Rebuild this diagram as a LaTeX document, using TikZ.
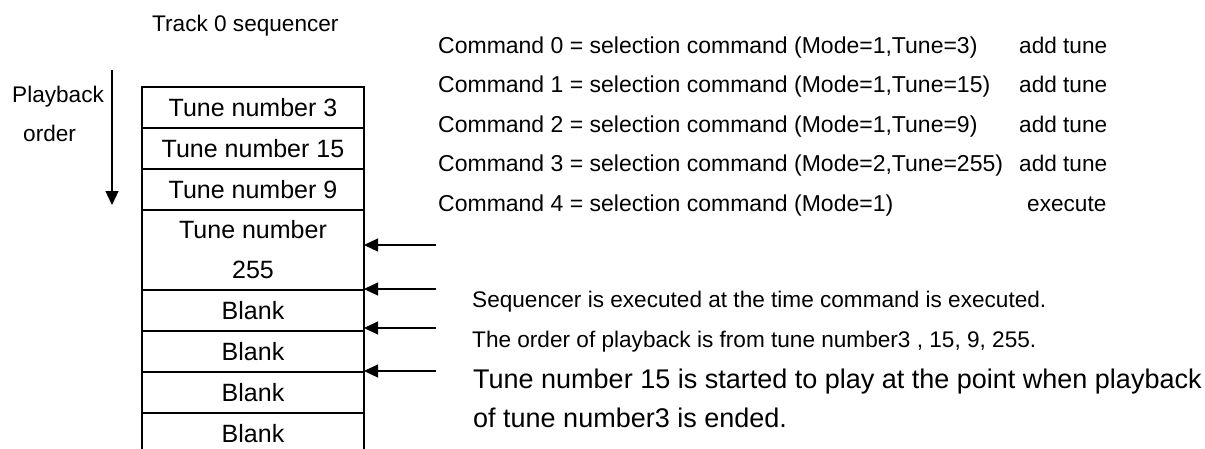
\documentclass[tikz,border=0pt]{standalone}
\usepackage{fontspec}
\setmainfont{Liberation Sans}
\usetikzlibrary{positioning}
\usetikzlibrary{arrows.meta}

\begin{document}
\begin{tikzpicture}[x=1pt, y=-1pt,
    seqrow/.style={draw, line width=1.8pt, minimum width=222pt, minimum height=41pt, inner sep=0pt, outer sep=0pt, font=\fontsize{25}{40}\selectfont},
    label/.style={inner sep=0pt, anchor=base west, font=\fontsize{22.6}{26}\selectfont},
    cmd/.style={inner sep=0pt, anchor=base west, font=\fontsize{23}{26}\selectfont},
    note/.style={inner sep=0pt, anchor=base west, font=\fontsize{27}{32}\selectfont},
    feed/.style={line width=1.2pt, -{Triangle[length=14pt, width=13pt]}}]

    \clip (0,0) rectangle (1205,448);
    \fill[white] (0,0) rectangle (1205,448);

    % sequencer table
    \node [seqrow] (t3) at (253,107.5) {Tune number 3};
    \node [seqrow, below=0pt of t3] (t15) {Tune number 15};
    \node [seqrow, below=0pt of t15] (t9) {Tune number 9};
    \node [seqrow, minimum height=80pt, align=center, below=0pt of t9] (t255) {Tune number\\255};
    \node [seqrow, below=0pt of t255] (b1) {Blank};
    \node [seqrow, below=0pt of b1] (b2) {Blank};
    \node [seqrow, below=0pt of b2] (b3) {Blank};
    \node [seqrow, below=0pt of b3] (b4) {Blank};

    \node [label] (title) at (152,31) {Track 0 sequencer};
    \node [label] (pb) at (12,102) {Playback};
    \node [label] (order) at (23,141) {order};

    \coordinate (pbtop) at (112,70);
    \coordinate (pbend) at (112,205);
    \draw [feed] (pbtop) -- (pbend);

    % commands
    \coordinate (tunecol) at (1019,0);
    \coordinate (execcol) at (1027,0);

    \node [cmd] (c0) at (438,53) {Command 0 = selection command (Mode=1,Tune=3)};
    \node [cmd, below=39.6pt of c0.base west, anchor=base west] (c1) {Command 1 = selection command (Mode=1,Tune=15)};
    \node [cmd, below=39.6pt of c1.base west, anchor=base west] (c2) {Command 2 = selection command (Mode=1,Tune=9)};
    \node [cmd, below=39.6pt of c2.base west, anchor=base west] (c3) {Command 3 = selection command (Mode=2,Tune=255)};
    \node [cmd, below=39.6pt of c3.base west, anchor=base west] (c4) {Command 4 = selection command (Mode=1)};

    \node [label] (a0) at (c0.base -| tunecol) {add tune};
    \node [label] (a1) at (c1.base -| tunecol) {add tune};
    \node [label] (a2) at (c2.base -| tunecol) {add tune};
    \node [label] (a3) at (c3.base -| tunecol) {add tune};
    \node [label] (ex) at (c4.base -| execcol) {execute};

    % feed arrows
    \coordinate (s1) at (436,245);
    \coordinate (s2) at (436,289);
    \coordinate (s3) at (436,328);
    \coordinate (s4) at (436,371);
    \draw [feed] (s1) -- (s1 -| t255.east);
    \draw [feed] (s2) -- (s2 -| t255.east);
    \draw [feed] (s3) -- (s3 -| b1.east);
    \draw [feed] (s4) -- (s4 -| b2.east);

    \node [label] (n1) at (472,307) {Sequencer is executed at the time command is executed.};
    \node [label, below=40pt of n1.base west, anchor=base west] (n2) {The order of playback is from tune number3 , 15, 9, 255.};
    \node [note] (n3) at (473,388) {Tune number 15 is started to play at the point when playback};
    \node [note, below=39pt of n3.base west, anchor=base west] (n4) {of tune number3 is ended.};

\end{tikzpicture}
\end{document}
